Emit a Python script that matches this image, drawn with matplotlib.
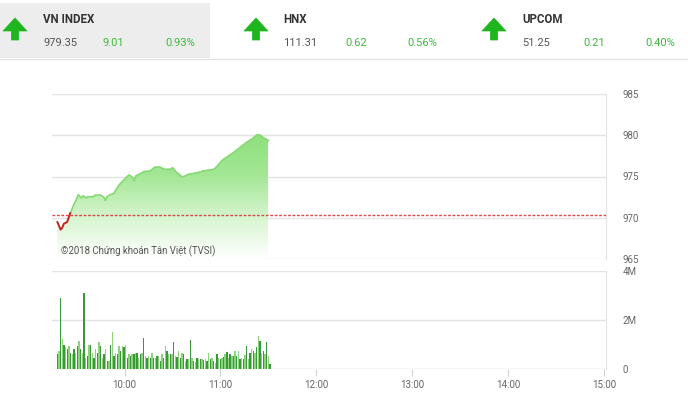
import matplotlib
matplotlib.use("Agg")
import matplotlib.pyplot as plt
import numpy as np
from matplotlib.patches import Rectangle, Polygon
from matplotlib.lines import Line2D
from matplotlib.colors import LinearSegmentedColormap

plt.rcParams['font.family'] = ['Roboto', 'DejaVu Sans']

# ---------------- data ----------------
ref_price = 970.34
# minutes after 09:00, price
price_min = [18, 20, 21, 22, 24, 25, 26, 28, 30, 31, 33, 34, 36, 37, 40, 42, 45, 47, 48, 49,
             51, 53, 55, 57, 59, 62, 63, 65, 66, 67, 69, 72, 76, 79, 82, 85, 89, 90, 92, 94,
             96, 98, 100, 103, 106, 109, 112, 116, 118, 121, 124, 128, 132, 136, 140, 143, 145, 147, 149, 150]
price_val = [969.47, 968.55, 968.80, 969.27, 969.47, 970.00, 970.55, 971.47, 972.27, 972.80,
             972.40, 972.67, 972.40, 972.55, 972.55, 972.75, 972.75, 972.50, 972.10, 972.55,
             972.80, 972.90, 973.50, 974.07, 974.47, 975.07, 975.20, 974.88, 974.47, 975.07,
             975.27, 975.60, 975.67, 976.15, 976.15, 975.88, 975.88, 976.08, 975.60, 975.28,
             974.95, 975.07, 975.28, 975.36, 975.48, 975.67, 975.76, 975.88, 976.27, 976.96,
             977.36, 977.88, 978.49, 979.09, 979.60, 980.08, 980.00, 979.69, 979.48, 979.35]

# volume in millions, one bar per minute from ~09:18 to 11:30
volume = [0.60, 0.74, 2.90, 1.23, 1.00, 0.88, 0.81, 0.95, 0.67, 0.60, 0.80, 0.67, 0.95, 1.16, 0.80,
          0.67, 3.10, 0.46, 0.53, 1.00, 0.98, 0.67, 0.46, 0.80, 0.67, 1.12, 0.95, 0.46, 0.60, 0.80,
          0.32, 0.32, 1.00, 1.50, 0.53, 0.67, 0.60, 0.95, 0.74, 0.95, 0.88,
          0.98, 0.46, 0.60, 0.53, 0.60, 0.60, 0.64, 0.67, 0.46, 0.60, 0.67, 1.26, 0.53, 0.46, 0.53,
          0.46, 0.67, 0.46, 0.46, 0.53, 0.53, 0.32, 0.60, 0.46, 0.92, 0.74, 0.60, 0.60, 0.60, 1.12,
          0.53, 0.50, 0.74, 0.46, 0.67, 0.60, 0.32, 0.39, 0.42, 1.19, 0.46, 0.32, 0.28, 0.46,
          0.39, 0.39, 0.42, 0.36, 0.42, 0.32, 0.67, 0.39, 0.46, 0.32, 0.25, 0.60, 0.46, 0.39, 0.46,
          0.50, 0.60, 0.70, 0.46, 0.60, 0.53, 0.53, 0.74, 0.53, 0.74, 0.42, 0.46, 0.39, 0.56, 0.95,
          0.39, 0.67, 0.81, 0.74, 0.67, 0.88, 1.34, 1.16, 0.67, 0.74, 0.60, 1.09, 0.53, 0.22]
vol_start, vol_end = 18, 151

time_ticks = [60, 120, 180, 240, 300, 360]
time_labels = ["10:00", "11:00", "12:00", "13:00", "14:00", "15:00"]
price_ticks = [965, 970, 975, 980, 985]
vol_ticks = [0, 2, 4]
vol_labels = ["0", "2M", "4M"]

headers = [("VN INDEX", "979.35", "9.01", "0.93%"),
           ("HNX", "111.31", "0.62", "0.56%"),
           ("UPCOM", "51.25", "0.21", "0.40%")]

# ---------------- figure ----------------
W, H = 688, 398
fig = plt.figure(figsize=(W / 100, H / 100), dpi=100)
fig.patch.set_facecolor("white")

def fx(px):
    return px / W

def fy(py):
    return 1 - py / H

# header background
fig.patches.append(Rectangle((0, fy(58)), fx(210), fy(3) - fy(58), transform=fig.transFigure,
                             facecolor="#ededed", edgecolor="none", zorder=0))
fig.lines.append(Line2D([0, 1], [fy(58.5), fy(58.5)], transform=fig.transFigure,
                        color="#e2e2e2", lw=1))

arrow_green = "#1fb51f"
hx = [(15, 43, 103, 165), (256, 283, 345, 407), (494, 522, 583, 645)]
for (name, val, chg, pct), (ax_, tx, cx, px) in zip(headers, hx):
    # up arrow icon
    top, hb, bot = 18, 31, 40
    hw, sw = 12, 3.6
    pts = [(ax_, top), (ax_ + hw, hb), (ax_ + sw, hb), (ax_ + sw, bot),
           (ax_ - sw, bot), (ax_ - sw, hb), (ax_ - hw, hb)]
    fig.patches.append(Polygon([(fx(a), fy(b)) for a, b in pts], closed=True,
                               transform=fig.transFigure, facecolor=arrow_green,
                               edgecolor=arrow_green, lw=0.5, joinstyle="round"))
    fig.text(fx(tx), fy(19.5), name, fontsize=8.3, fontweight="bold", color="#333333",
             va="center", ha="left")
    fig.text(fx(tx), fy(43), val, fontsize=8, color="#555555", va="center", ha="left")
    fig.text(fx(cx), fy(43), chg, fontsize=8, color="#3db83d", va="center", ha="left")
    fig.text(fx(px), fy(43), pct, fontsize=8, color="#3db83d", va="center", ha="left")

xlim = (14.6, 361.2)
grid_c = "#e3e3e3"
lab_c = "#666666"

# ---------------- price axes ----------------
axp = fig.add_axes([fx(52), fy(259), fx(606) - fx(52), fy(94) - fy(259)])
axp.set_xlim(*xlim)
axp.set_ylim(965, 985)
for s in ["left", "top", "bottom"]:
    axp.spines[s].set_visible(False)
axp.spines["right"].set_color(grid_c)
axp.set_xticks([])
axp.set_yticks(price_ticks)
axp.yaxis.tick_right()
axp.tick_params(axis="y", length=0, labelsize=7, labelcolor=lab_c, pad=12)
for t in price_ticks:
    axp.axhline(t, color=grid_c, lw=1, zorder=0)

x = np.array(price_min, dtype=float)
y = np.array(price_val)
# gradient fill under line
poly_x = np.concatenate([x, [x[-1], x[0]]])
poly_y = np.concatenate([y, [965, 965]])
clip = Polygon(np.column_stack([poly_x, poly_y]), closed=True, facecolor="none",
               edgecolor="none", transform=axp.transData)
axp.add_patch(clip)
cmap = LinearSegmentedColormap.from_list("g", ["#ffffff", "#d6f5cf", "#a3e795", "#8ee07c"])
grad = np.linspace(0, 1, 256).reshape(-1, 1)
im = axp.imshow(grad, extent=[x[0], x[-1], 965, 980.2], origin="lower", aspect="auto",
                cmap=cmap, zorder=1, interpolation="bilinear")
im.set_clip_path(clip)
axp.set_xlim(*xlim)
axp.set_ylim(965, 985)

red_n = 7
axp.plot(x[red_n - 1:], y[red_n - 1:], color="#86d873", lw=1.2, zorder=3)
axp.plot(x[:red_n], y[:red_n], color="#cc1f1f", lw=1.4, zorder=4)
axp.axhline(ref_price, color="#e04848", lw=1, ls=(0, (2, 1.2)), zorder=5)

axp.text(fx(61), fy(251), "©2018 Chứng khoán Tân Việt (TVSI)", transform=fig.transFigure,
         fontsize=6.9, color="#555555", ha="left", va="center")

# ---------------- volume axes ----------------
axv = fig.add_axes([fx(52), fy(369), fx(606) - fx(52), fy(271) - fy(369)])
axv.set_xlim(*xlim)
axv.set_ylim(0, 4)
for s in ["left", "top", "bottom"]:
    axv.spines[s].set_visible(False)
axv.spines["right"].set_color(grid_c)
for t in vol_ticks:
    axv.axhline(t, color=grid_c if t else "#d5dbe3", lw=1, zorder=0)
vx = np.linspace(vol_start, vol_end, len(volume))
cols = ["#3a983a" if i % 2 == 0 else "#8bd47c" for i in range(len(volume))]
axv.bar(vx, volume, width=0.85, color=cols, zorder=2)
axv.yaxis.tick_right()
axv.set_yticks(vol_ticks)
axv.set_yticklabels(vol_labels)
axv.tick_params(axis="y", length=0, labelsize=7, labelcolor=lab_c, pad=12)
axv.set_xticks(time_ticks)
axv.set_xticklabels(time_labels)
axv.tick_params(axis="x", length=5, color="#ccd3dd", labelsize=7, labelcolor=lab_c, pad=3)

fig.savefig("out.png", dpi=100)
